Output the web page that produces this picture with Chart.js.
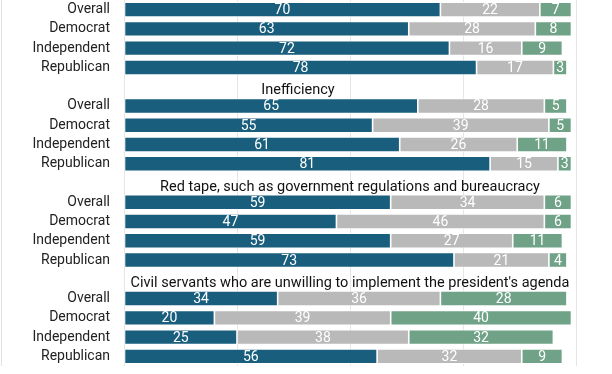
<!DOCTYPE html>
<html>
<head>
<meta charset="utf-8">
<script src="https://cdn.jsdelivr.net/npm/chart.js@4/dist/chart.umd.min.js"></script>
<style>
  html, body { margin: 0; padding: 0; background: #fff; }
  #wrap { width: 612px; height: 374px; }
</style>
</head>
<body>
<div id="wrap"><canvas id="problems"></canvas></div>
<script>
const groupTitles = ['', 'Inefficiency', 'Red tape, such as government regulations and bureaucracy', "Civil servants who are unwilling to implement the president's agenda"];
const parties = ['Overall', 'Democrat', 'Independent', 'Republican'];
const majorProblem = [[70, 63, 72, 78], [65, 55, 61, 81], [59, 47, 59, 73], [34, 20, 25, 56]];
const minorProblem = [[22, 28, 16, 17], [28, 39, 26, 15], [34, 46, 27, 21], [36, 39, 38, 32]];
const notProblem = [[7, 8, 9, 3], [5, 5, 11, 3], [6, 6, 11, 4], [28, 40, 32, 9]];

// flatten into one category axis, a title slot before every group but the first
const labels = [], titleRows = {}, major = [], minor = [], notP = [];
groupTitles.forEach((t, g) => {
  if (g > 0) {
    titleRows[labels.length] = t;
    labels.push(''); major.push(null); minor.push(null); notP.push(null);
  }
  parties.forEach((p, i) => {
    labels.push(p);
    major.push(majorProblem[g][i]);
    minor.push(minorProblem[g][i]);
    notP.push(notProblem[g][i]);
  });
});

const font = 'Roboto, "Noto Sans", sans-serif';

const extras = {
  id: 'extras',
  afterDatasetsDraw(chart) {
    const ctx = chart.ctx, area = chart.chartArea, y = chart.scales.y;
    ctx.save();
    // values inside the segments
    ctx.font = '14px ' + font;
    ctx.fillStyle = '#fff';
    ctx.textAlign = 'center';
    ctx.textBaseline = 'middle';
    chart.data.datasets.forEach((ds, di) => {
      chart.getDatasetMeta(di).data.forEach((bar, i) => {
        const v = ds.data[i];
        if (v == null) return;
        ctx.fillText(v, (bar.x + bar.base) / 2, bar.y + 1);
      });
    });
    // group titles
    ctx.font = '14.5px ' + font;
    ctx.fillStyle = '#111';
    Object.keys(titleRows).forEach(r => {
      const shift = titleRows[r] === 'Inefficiency' ? -52 : 0;
      ctx.fillText(titleRows[r], (area.left + area.right) / 2 + shift, y.getPixelForValue(+r) + 4);
    });
    // thin frame line at the left edge
    ctx.strokeStyle = '#e2e2e2';
    ctx.lineWidth = 1;
    ctx.beginPath();
    ctx.moveTo(1.5, 0);
    ctx.lineTo(1.5, area.bottom);
    ctx.stroke();
    ctx.restore();
  }
};

new Chart(document.getElementById('problems'), {
  type: 'bar',
  data: {
    labels: labels,
    datasets: [
      { label: 'Major problem', data: major, backgroundColor: '#195e7d' },
      { label: 'Minor problem', data: minor, backgroundColor: '#b9b9b9' },
      { label: 'Not a problem', data: notP, backgroundColor: '#6fa287' }
    ]
  },
  options: {
    indexAxis: 'y',
    responsive: true,
    maintainAspectRatio: false,
    animation: false,
    layout: { padding: { top: 0, right: 36, bottom: 8, left: 0 } },
    datasets: {
      bar: {
        barPercentage: 1,
        categoryPercentage: 0.78,
        borderColor: '#fff',
        borderWidth: 0.8,
        borderSkipped: false
      }
    },
    plugins: {
      legend: { display: false },
      tooltip: { enabled: false }
    },
    scales: {
      x: {
        stacked: true,
        min: 0,
        max: 100,
        afterFit(scale) { scale.height = 0; scale.paddingLeft = 0; scale.paddingRight = 0; },
        ticks: { stepSize: 25, display: false },
        grid: { color: '#e6e6e6', drawTicks: false },
        border: { display: false }
      },
      y: {
        stacked: true,
        afterFit(scale) { scale.width = 124; scale.paddingTop = 0; scale.paddingBottom = 0; },
        ticks: { autoSkip: false, color: '#222', padding: 14, font: { family: font, size: 14 } },
        grid: { display: false, drawTicks: false },
        border: { display: false }
      }
    }
  },
  plugins: [extras]
});
</script>
</body>
</html>
